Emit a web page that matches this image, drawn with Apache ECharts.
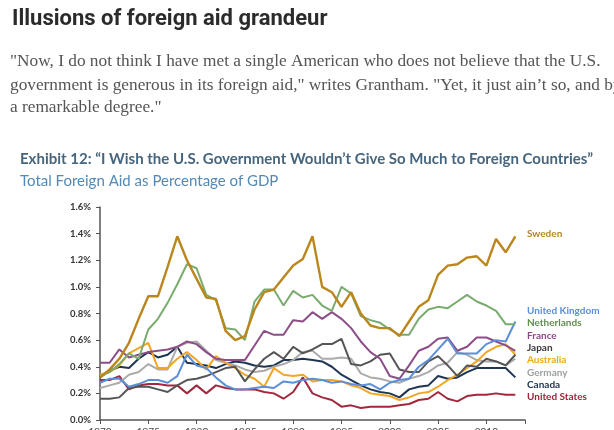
<!DOCTYPE html>
<html>
<head>
<meta charset="utf-8">
<script src="https://cdn.jsdelivr.net/npm/echarts@6/dist/echarts.min.js"></script>
<style>html,body{margin:0;padding:0;background:#fff}#c{width:614px;height:430px}</style>
</head>
<body>
<div id="c"></div>
<script>
const years = [1970,1971,1972,1973,1974,1975,1976,1977,1978,1979,1980,1981,1982,1983,1984,1985,1986,1987,1988,1989,1990,1991,1992,1993,1994,1995,1996,1997,1998,1999,2000,2001,2002,2003,2004,2005,2006,2007,2008,2009,2010,2011,2012,2013];
const xTickLabels = [1970,1975,1980,1985,1990,1995,2000,2005,2010];
const yTickLabels = ['0.0%','0.2%','0.4%','0.6%','0.8%','1.0%','1.2%','1.4%','1.6%'];

const sweden = [0.32,0.38,0.46,0.58,0.76,0.93,0.93,1.15,1.38,1.20,1.06,0.92,0.91,0.67,0.60,0.63,0.83,0.96,0.98,1.07,1.16,1.21,1.38,1.00,0.96,0.85,0.96,0.80,0.71,0.69,0.69,0.63,0.74,0.85,0.90,1.09,1.16,1.17,1.22,1.23,1.16,1.36,1.26,1.38];
const netherlands = [0.33,0.36,0.42,0.50,0.46,0.68,0.76,0.88,1.02,1.17,1.14,0.94,0.90,0.69,0.68,0.60,0.89,0.98,0.98,0.86,0.97,0.92,0.94,0.86,0.82,1.00,0.95,0.78,0.75,0.73,0.68,0.64,0.64,0.76,0.83,0.85,0.84,0.89,0.94,0.89,0.86,0.82,0.72,0.72];
const france = [0.43,0.43,0.53,0.47,0.49,0.51,0.52,0.53,0.55,0.59,0.57,0.51,0.46,0.45,0.45,0.45,0.56,0.67,0.64,0.64,0.75,0.74,0.81,0.76,0.81,0.76,0.69,0.59,0.51,0.46,0.33,0.31,0.41,0.52,0.55,0.61,0.62,0.52,0.55,0.62,0.62,0.59,0.56,0.52];
const japan = [0.16,0.16,0.17,0.24,0.25,0.25,0.23,0.21,0.26,0.30,0.31,0.33,0.36,0.39,0.40,0.29,0.38,0.46,0.51,0.46,0.55,0.50,0.53,0.57,0.57,0.61,0.42,0.41,0.44,0.49,0.50,0.38,0.36,0.36,0.44,0.48,0.41,0.33,0.41,0.40,0.46,0.44,0.41,0.49];
const australia = [0.34,0.36,0.41,0.50,0.54,0.58,0.39,0.39,0.46,0.51,0.45,0.38,0.48,0.43,0.39,0.34,0.31,0.25,0.39,0.34,0.33,0.34,0.29,0.30,0.30,0.29,0.26,0.24,0.20,0.19,0.18,0.15,0.17,0.20,0.21,0.25,0.30,0.34,0.39,0.44,0.51,0.55,0.57,0.49];
const germany = [0.24,0.26,0.28,0.34,0.36,0.42,0.38,0.38,0.55,0.58,0.59,0.52,0.45,0.43,0.41,0.38,0.36,0.37,0.40,0.42,0.45,0.51,0.52,0.46,0.46,0.47,0.46,0.35,0.32,0.31,0.29,0.28,0.31,0.33,0.36,0.41,0.43,0.51,0.49,0.45,0.44,0.44,0.41,0.46];
const canada = [0.32,0.37,0.40,0.39,0.46,0.51,0.47,0.49,0.55,0.43,0.42,0.41,0.39,0.42,0.44,0.43,0.41,0.40,0.41,0.45,0.45,0.46,0.45,0.44,0.40,0.34,0.30,0.26,0.23,0.21,0.20,0.17,0.23,0.25,0.26,0.33,0.31,0.32,0.36,0.39,0.39,0.39,0.39,0.32];
const unitedStates = [0.30,0.30,0.33,0.23,0.26,0.27,0.27,0.26,0.26,0.20,0.26,0.20,0.26,0.24,0.23,0.23,0.23,0.21,0.20,0.16,0.21,0.32,0.20,0.17,0.15,0.10,0.11,0.09,0.10,0.10,0.10,0.11,0.12,0.15,0.16,0.21,0.16,0.14,0.18,0.19,0.19,0.20,0.19,0.19];
const unitedKingdom = [0.28,0.31,0.31,0.25,0.27,0.30,0.30,0.28,0.33,0.49,0.41,0.39,0.32,0.26,0.23,0.23,0.24,0.25,0.24,0.29,0.28,0.30,0.31,0.30,0.28,0.29,0.27,0.26,0.27,0.23,0.28,0.30,0.31,0.40,0.45,0.53,0.61,0.50,0.50,0.50,0.57,0.60,0.59,0.74];

const seriesNames = ['United States','Canada','Germany','Australia','Japan','France','United Kingdom','Netherlands','Sweden'];
const seriesValues = [unitedStates, canada, germany, australia, japan, france, unitedKingdom, netherlands, sweden];
const lineColors = ['#a1283d','#1f3552','#ababab','#f3a624','#555555','#8d4d88','#5b8fd8','#7aab6e','#bb861c'];

const labelNames = ['Sweden','United Kingdom','Netherlands','France','Japan','Australia','Germany','Canada','United States'];
const labelColors = ['#b5862a','#5b8ed6','#5f8f50','#8b4a86','#3a3a3a','#f2a51f','#a0a0a0','#1c3350','#a3243b'];
const labelY = [235,312,324,336.5,349,361,373.5,385.5,397.5];

const chart = echarts.init(document.getElementById('c'), null, {renderer:'canvas'});

const series = seriesNames.map((n,i)=>({
  name:n, type:'line', symbol:'none', smooth:false,
  data: years.map((y,j)=>[y, seriesValues[i][j]]),
  lineStyle:{color:lineColors[i], width: n==='Sweden'?2.4:2},
  itemStyle:{color:lineColors[i]},
  z: 2+i
}));

const graphics = [
  {type:'text', left:12, top:8, style:{text:'Illusions of foreign aid grandeur', font:'bold 22px Roboto', fill:'#2b2b2b'}},
  {type:'text', left:10, top:53, style:{text:'"Now, I do not think I have met a single American who does not believe that the U.S.', font:'17.3px "Liberation Serif"', fill:'#555'}},
  {type:'text', left:10, top:77, style:{text:'government is generous in its foreign aid," writes Grantham. "Yet, it just ain\u2019t so, and by', font:'17.3px "Liberation Serif"', fill:'#555'}},
  {type:'text', left:10, top:99, style:{text:'a remarkable degree."', font:'17.3px "Liberation Serif"', fill:'#555'}},
  {type:'text', left:20, top:152, style:{text:'Exhibit 12: \u201cI Wish the U.S. Government Wouldn\u2019t Give So Much to Foreign Countries\u201d', font:'bold 15px Lato', fill:'#46667f'}},
  {type:'text', left:20, top:174, style:{text:'Total Foreign Aid as Percentage of GDP', font:'15px Lato', fill:'#5389b6'}}
];
labelNames.forEach((n,i)=>{
  graphics.push({type:'text', left:527, top:labelY[i]-6, style:{text:n, font:'bold 10px Lato', fill:labelColors[i]}});
});

chart.setOption({
  animation:false,
  backgroundColor:'#fff',
  grid:{left:100, top:207, width:425, height:213, containLabel:false, outerBoundsMode:'none'},
  xAxis:{type:'value', min:1970, max:2014, interval:5,
    axisLine:{lineStyle:{color:'#555', width:1.5}},
    axisTick:{length:4, lineStyle:{color:'#555'}},
    splitLine:{show:false},
    axisLabel:{color:'#444', fontFamily:'Lato', fontSize:10, margin:7,
      formatter:v=> xTickLabels.indexOf(v)>=0 ? String(v) : ''}
  },
  yAxis:{type:'value', min:0, max:1.6, interval:0.2,
    axisLine:{show:true, lineStyle:{color:'#555', width:1.5}},
    axisTick:{show:true, length:4, lineStyle:{color:'#555'}},
    splitLine:{show:false},
    axisLabel:{color:'#333', fontFamily:'Lato', fontSize:9.5, fontWeight:'bold', margin:9,
      formatter:v=> yTickLabels[Math.round(v/0.2)]}
  },
  series: series,
  graphic: graphics
});
</script>
</body>
</html>
